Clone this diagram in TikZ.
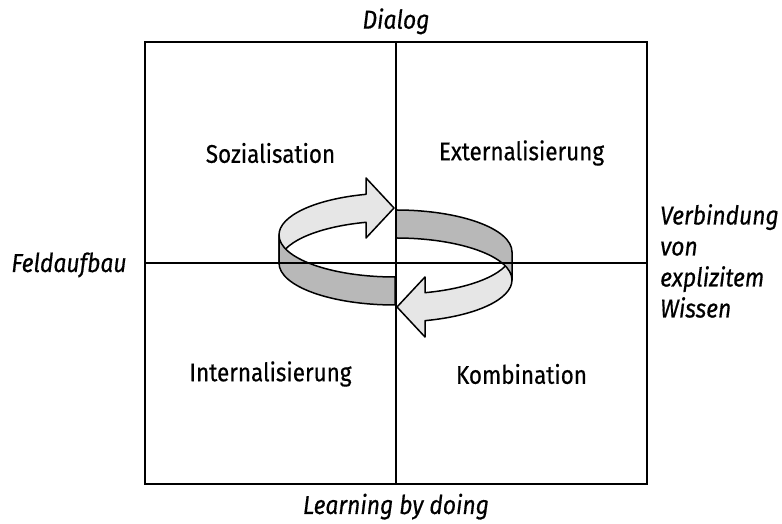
\documentclass[tikz,border=0pt]{standalone}
\usepackage{fontspec}
\setmainfont{Fira Sans}[FakeStretch=0.88, FakeBold=0.5]
\usetikzlibrary{positioning}
\definecolor{bandlight}{HTML}{E6E6E6}
\definecolor{banddark}{HTML}{B8B8B8}

\begin{document}
\begin{tikzpicture}[x=1pt, y=1pt,
  quad/.style={rectangle, draw=black, line width=2pt, minimum width=251pt, minimum height=221pt, inner sep=0pt, outer sep=0pt, font=\fontsize{25.5}{30}\selectfont},
  axis/.style={font=\fontsize{26}{31}\selectfont\itshape, inner sep=0pt},
  band/.style={draw=black, line width=1.5pt, line join=round},
]
\useasboundingbox (0,0) rectangle (782,524);

% rotating arrows
\foreach \r/\nm in {0/left, 180/right} {
  \begin{scope}[rotate around={\r:(395.5,266.5)}]
    \fill[bandlight, band] (279,289) arc[start angle=180, end angle=104.48, x radius=116pt, y radius=42pt]
      -- (366,346) -- (394,316) -- (366,286) -- (366,301.7)
      arc[start angle=104.48, end angle=180, x radius=116pt, y radius=42pt] -- cycle;
    \fill[banddark, band] (279,289) arc[start angle=180, end angle=270, x radius=116pt, y radius=42pt]
      -- (395,219) arc[start angle=270, end angle=180, x radius=116pt, y radius=42pt] -- cycle;
  \end{scope}
}

% quadrants
\node[quad] (soz) at (270.5,371) {Sozialisation};
\node[quad] (ext) at (521.5,371) {Externalisierung};
\node[quad] (int) at (270.5,150) {Internalisierung};
\node[quad] (kom) at (521.5,150) {Kombination};

% axis labels
\node[axis, above=8pt of soz.north east] (dialog) {Dialog};
\node[axis, below=9pt of int.south east] (doing) {Learning by doing};
\node[axis] (feld) at (69,259) {Feldaufbau};
\node[axis, align=left, anchor=north west] (wissen) at (660,320) {Verbindung\\von\\explizitem\\Wissen};

\end{tikzpicture}
\end{document}
